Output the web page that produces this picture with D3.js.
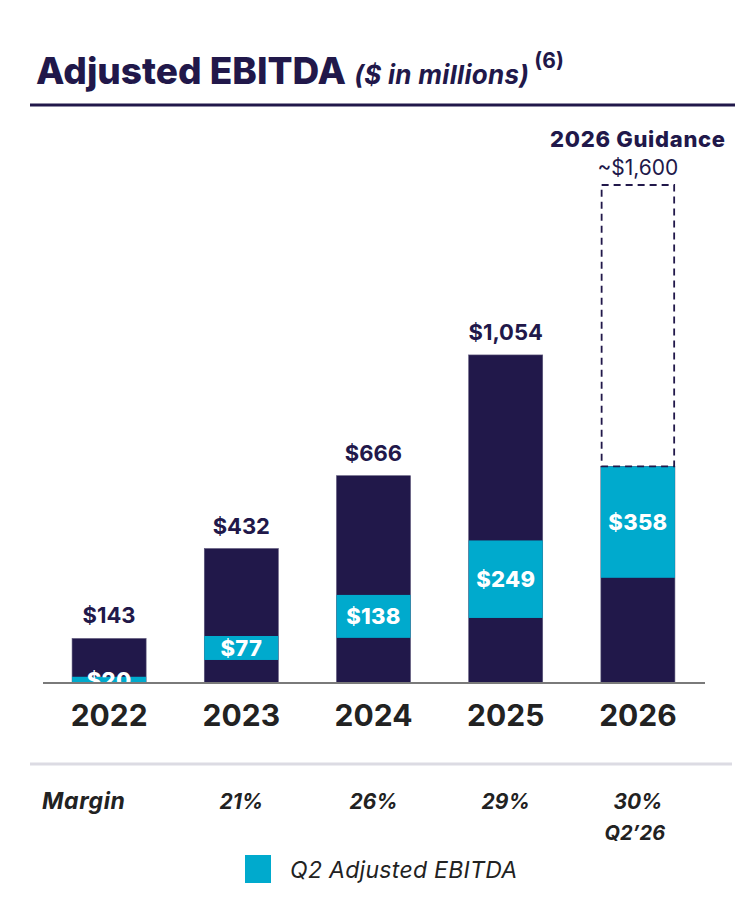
<!DOCTYPE html>
<html>
<head>
<meta charset="utf-8">
<script src="https://cdn.jsdelivr.net/npm/d3@7"></script>
<style>
  body { margin: 0; background: #fff; }
  svg { font-family: Inter, "Noto Sans", sans-serif; display: block; }
</style>
</head>
<body>
<div id="chart"></div>
<script>
// chart values
var years = ["2022", "2023", "2024", "2025", "2026"];
var totals = [143, 432, 666, 1054, 1600];
var belowQ2 = [0, 74, 145, 209, 338];   // dark part under the Q2 segment
var q2Values = [20, 77, 138, 249, 358];
var margins = ["", "21%", "26%", "29%", "30%"];
var guidanceLabel = "~$1,600";

var navy = "#21184a";
var cyan = "#00aacd";

var svgWidth = 756, svgHeight = 912;

var svg = d3.select("#chart")
  .append("svg")
  .attr("width", svgWidth)
  .attr("height", svgHeight);

// Title
var title = svg.append("text")
  .attr("x", 36)
  .attr("y", 84)
  .attr("fill", navy);
title.append("tspan")
  .attr("font-size", 37)
  .attr("font-weight", 800)
  .text("Adjusted EBITDA ");
title.append("tspan")
  .attr("font-size", 26)
  .attr("font-weight", 700)
  .attr("font-style", "italic")
  .attr("letter-spacing", 0.3)
  .text("($ in millions)");
title.append("tspan")
  .attr("font-size", 21)
  .attr("font-weight", 700)
  .attr("dy", -16)
  .attr("dx", 5)
  .text("(6)");

svg.append("line")
  .attr("x1", 30).attr("x2", 735)
  .attr("y1", 105).attr("y2", 105)
  .attr("stroke", navy)
  .attr("stroke-width", 3);

// Scales
var x = d3.scaleBand()
  .domain(years)
  .range([43, 704])
  .paddingInner(0.44)
  .paddingOuter(0.22);

var y = d3.scaleLinear()
  .domain([0, 1600])
  .range([683, 185]);

var chartGroup = svg.append("g");

// clip so the 2022 label is cut by the axis
svg.append("clipPath").attr("id", "plotClip")
  .append("rect").attr("x", 0).attr("y", 0).attr("width", svgWidth).attr("height", 683);

// dark bars (actual totals; 2026 only up to the top of Q2)
chartGroup.selectAll(".darkBar")
  .data(years)
  .enter()
  .append("rect")
  .attr("class", "darkBar")
  .attr("x", d => x(d))
  .attr("width", x.bandwidth())
  .attr("y", (d, i) => i === 4 ? y(belowQ2[i] + q2Values[i]) : y(totals[i]))
  .attr("height", (d, i) => y(0) - (i === 4 ? y(belowQ2[i] + q2Values[i]) : y(totals[i])))
  .attr("fill", navy)
  .attr("stroke", "#5a5478")
  .attr("stroke-width", 0.6);

// Q2 segments
chartGroup.selectAll(".q2Bar")
  .data(years)
  .enter()
  .append("rect")
  .attr("class", "q2Bar")
  .attr("x", d => x(d))
  .attr("width", x.bandwidth())
  .attr("y", (d, i) => y(belowQ2[i] + q2Values[i]))
  .attr("height", (d, i) => y(belowQ2[i]) - y(belowQ2[i] + q2Values[i]))
  .attr("fill", cyan);

// guidance dashed box
chartGroup.append("rect")
  .attr("x", x("2026") + 0.75)
  .attr("width", x.bandwidth() - 1.5)
  .attr("y", y(totals[4]))
  .attr("height", y(belowQ2[4] + q2Values[4]) - y(totals[4]))
  .attr("fill", "none")
  .attr("stroke", navy)
  .attr("stroke-width", 1.8)
  .attr("stroke-dasharray", "7,5");

// Q2 labels
chartGroup.append("g")
  .attr("clip-path", "url(#plotClip)")
  .selectAll(".q2Text")
  .data(years)
  .enter()
  .append("text")
  .attr("class", "q2Text")
  .attr("x", d => x(d) + x.bandwidth() / 2)
  .attr("y", (d, i) => i === 0 ? 688 : (y(belowQ2[i]) + y(belowQ2[i] + q2Values[i])) / 2 + 8)
  .attr("text-anchor", "middle")
  .attr("font-size", 22)
  .attr("font-weight", 800)
  .attr("letter-spacing", 0.3)
  .attr("fill", "#fff")
  .text((d, i) => "$" + q2Values[i]);

// total labels (not for 2026)
chartGroup.selectAll(".totalText")
  .data(years.slice(0, 4))
  .enter()
  .append("text")
  .attr("x", d => x(d) + x.bandwidth() / 2)
  .attr("y", (d, i) => y(totals[i]) - 15)
  .attr("text-anchor", "middle")
  .attr("font-size", 22)
  .attr("font-weight", 700)
  .attr("fill", navy)
  .text((d, i) => "$" + d3.format(",")(totals[i]));

// guidance labels
chartGroup.append("text")
  .attr("x", x("2026") + x.bandwidth() / 2)
  .attr("y", 147)
  .attr("text-anchor", "middle")
  .attr("font-size", 22)
  .attr("font-weight", 800)
  .attr("letter-spacing", 0.7)
  .attr("fill", navy)
  .text("2026 Guidance");
chartGroup.append("text")
  .attr("x", x("2026") + x.bandwidth() / 2)
  .attr("y", 175)
  .attr("text-anchor", "middle")
  .attr("font-size", 21)
  .attr("font-weight", 400)
  .attr("fill", navy)
  .text(guidanceLabel);

// x axis
var bottomAxis = d3.axisBottom(x).tickSize(0).tickPadding(20);
var axisG = chartGroup.append("g")
  .attr("transform", "translate(0, 683)")
  .call(bottomAxis);
axisG.select(".domain")
  .attr("d", "M43,0H705")
  .attr("stroke", "#7a7a7a")
  .attr("stroke-width", 2);
axisG.selectAll("text")
  .attr("font-family", "Inter, sans-serif")
  .attr("font-size", 30)
  .attr("font-weight", 700)
  .attr("fill", "#222")
  .attr("dy", "0.75em");

// separator
svg.append("line")
  .attr("x1", 30).attr("x2", 732)
  .attr("y1", 764).attr("y2", 764)
  .attr("stroke", "#dcdbe3")
  .attr("stroke-width", 3);

// margin row
svg.append("text")
  .attr("x", 42)
  .attr("y", 809)
  .attr("font-size", 23)
  .attr("font-weight", 700)
  .attr("font-style", "italic")
  .attr("letter-spacing", 0.6)
  .attr("fill", "#222")
  .text("Margin");

svg.selectAll(".marginText")
  .data(years)
  .enter()
  .append("text")
  .attr("x", d => x(d) + x.bandwidth() / 2)
  .attr("y", 809)
  .attr("text-anchor", "middle")
  .attr("font-size", 21)
  .attr("font-weight", 700)
  .attr("font-style", "italic")
  .attr("fill", "#222")
  .text((d, i) => margins[i]);

svg.append("text")
  .attr("x", x("2026") + x.bandwidth() / 2 - 3)
  .attr("y", 840)
  .attr("text-anchor", "middle")
  .attr("font-size", 20)
  .attr("font-weight", 700)
  .attr("font-style", "italic")
  .attr("fill", "#222")
  .text("Q2\u201926");

// legend
svg.append("rect")
  .attr("x", 245).attr("y", 855)
  .attr("width", 26).attr("height", 28)
  .attr("fill", cyan);
svg.append("text")
  .attr("x", 290)
  .attr("y", 878)
  .attr("font-size", 23)
  .attr("font-style", "italic")
  .attr("letter-spacing", 0.3)
  .attr("fill", "#222")
  .text("Q2 Adjusted EBITDA");
</script>
</body>
</html>
